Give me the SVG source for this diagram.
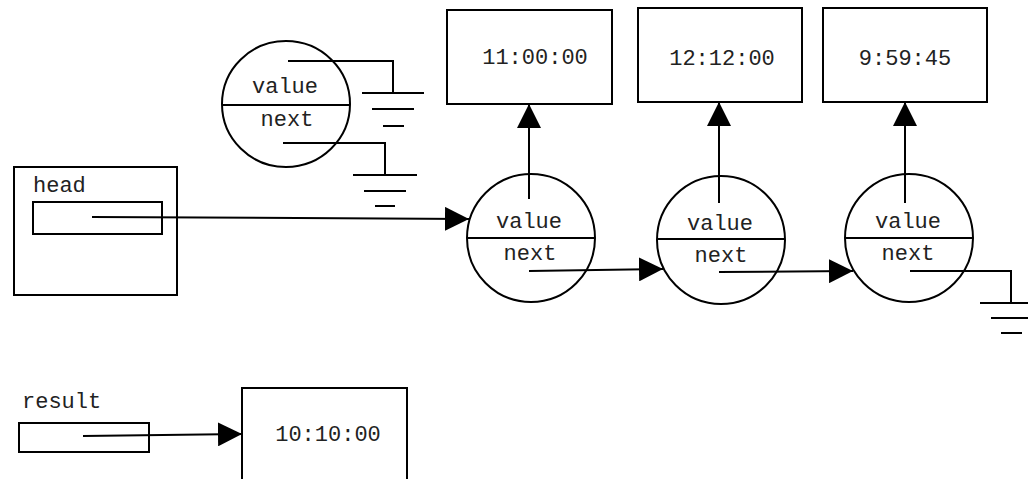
<svg xmlns="http://www.w3.org/2000/svg" width="1028" height="479" viewBox="0 0 1028 479">
<style>
.s{fill:none;stroke:#000;stroke-width:2}
.b{fill:#fff;stroke:#000;stroke-width:2}
.t{font-family:"Liberation Mono","Courier New",monospace;font-size:22px;fill:#222}
.m{text-anchor:middle}
.c{fill:none;stroke:#000;stroke-width:2}
</style>
<defs>
<marker id="ah" viewBox="0 0 24 24" refX="24" refY="12" markerWidth="24" markerHeight="24" markerUnits="userSpaceOnUse" orient="auto">
<path d="M0,0 L24,12 L0,24 z" fill="#000"/>
</marker>
</defs>
<rect width="1028" height="479" fill="#fff"/>

<g id="free-node">
<ellipse class="s" cx="286" cy="104" rx="64" ry="63"/>
<line class="s" x1="222" y1="105" x2="350" y2="105"/>
<text class="t m" x="285" y="93">value</text>
<text class="t m" x="287" y="126">next</text>
</g>
<g id="ground-1">
<line class="s" x1="362" y1="93" x2="424" y2="93"/>
<line class="s" x1="372" y1="109" x2="414" y2="109"/>
<line class="s" x1="383" y1="126" x2="404" y2="126"/>
</g>
<g id="ground-2">
<line class="s" x1="353" y1="175" x2="417" y2="175"/>
<line class="s" x1="364" y1="191" x2="406" y2="191"/>
<line class="s" x1="375" y1="206" x2="395" y2="206"/>
</g>

<g id="head">
<rect class="s" x="14" y="167" width="163" height="128"/>
<text class="t" x="33" y="192">head</text>
<rect class="s" x="33" y="202" width="129" height="32"/>
</g>

<g id="box1">
<rect class="s" x="447" y="10" width="165" height="94"/>
<text class="t m" x="535" y="64">11:00:00</text>
</g>
<g id="box2">
<rect class="s" x="638" y="8" width="164" height="94"/>
<text class="t m" x="722" y="65">12:12:00</text>
</g>
<g id="box3">
<rect class="s" x="823" y="8" width="164" height="94"/>
<text class="t m" x="905" y="65">9:59:45</text>
</g>

<g id="node1">
<circle class="s" cx="531" cy="238" r="64"/>
<line class="s" x1="467" y1="238" x2="595" y2="238"/>
<text class="t m" x="529" y="228">value</text>
<text class="t m" x="530" y="260">next</text>
</g>
<g id="node2">
<circle class="s" cx="721" cy="240" r="64"/>
<line class="s" x1="657" y1="239" x2="785" y2="239"/>
<text class="t m" x="720" y="230">value</text>
<text class="t m" x="721" y="262">next</text>
</g>
<g id="node3">
<circle class="s" cx="909" cy="238" r="64"/>
<line class="s" x1="845" y1="238" x2="973" y2="238"/>
<text class="t m" x="908" y="228">value</text>
<text class="t m" x="908" y="260">next</text>
</g>
<g id="ground-3">
<line class="s" x1="980" y1="303" x2="1042" y2="303"/>
<line class="s" x1="991" y1="318" x2="1035" y2="318"/>
<line class="s" x1="1001" y1="333" x2="1022" y2="333"/>
</g>

<g id="result">
<text class="t" x="22" y="408">result</text>
<rect class="s" x="19" y="423" width="130" height="29"/>
</g>
<g id="box-result">
<rect class="s" x="242" y="388" width="165" height="100"/>
<text class="t m" x="328" y="441">10:10:00</text>
</g>

<g id="connectors">
<polyline class="c" points="288,61 393,61 393,93"/>
<polyline class="c" points="283,143 385,143 385,175"/>
<line class="c" x1="92" y1="217" x2="469" y2="219" marker-end="url(#ah)"/>
<line class="c" x1="529" y1="199" x2="529" y2="104" marker-end="url(#ah)"/>
<line class="c" x1="719" y1="203" x2="719" y2="102" marker-end="url(#ah)"/>
<line class="c" x1="905" y1="203" x2="905" y2="102" marker-end="url(#ah)"/>
<line class="c" x1="529" y1="271" x2="663" y2="269" marker-end="url(#ah)"/>
<line class="c" x1="719" y1="272" x2="853" y2="271" marker-end="url(#ah)"/>
<polyline class="c" points="910,271 1011,271 1011,303"/>
<line class="c" x1="83" y1="436" x2="242" y2="434" marker-end="url(#ah)"/>
</g>
</svg>
